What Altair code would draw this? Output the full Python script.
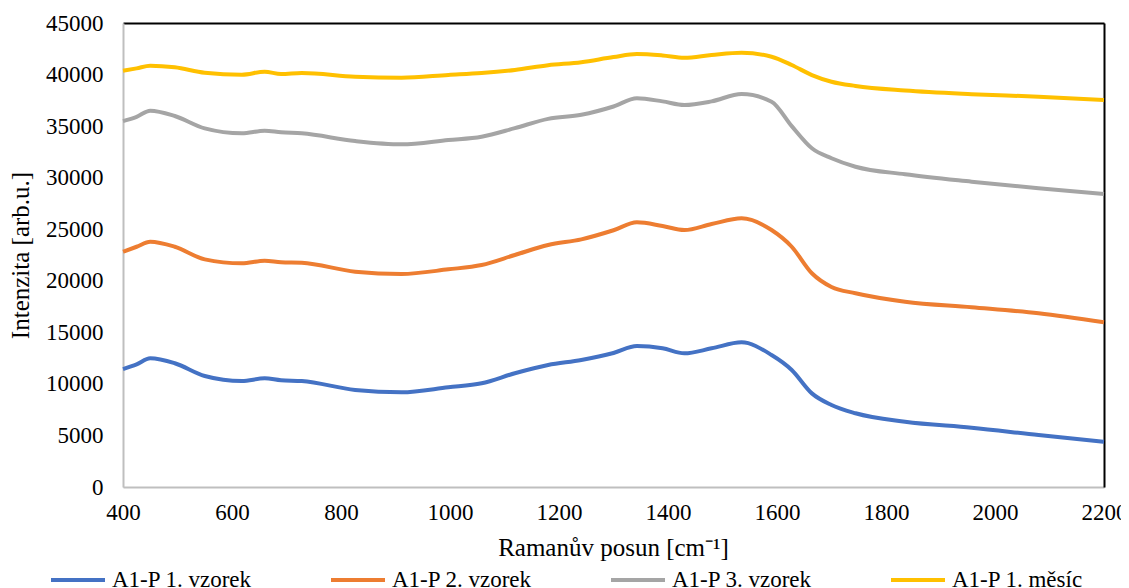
import altair as alt
import pandas as pd

shift = [400, 425, 450, 495, 550, 618, 660, 690, 728, 826, 911, 997, 1058, 1119,
         1180, 1241, 1300, 1343, 1390, 1430, 1480, 1535, 1590, 1627, 1664, 1700,
         1744, 1835, 1957, 2080, 2200]

s1 = [11440, 11900, 12480, 12000, 10770, 10280, 10540, 10350, 10280, 9410, 9180,
      9670, 10060, 11030, 11830, 12320, 13000, 13670, 13450, 12960, 13450, 14030,
      12800, 11350, 9080, 7950, 7150, 6330, 5750, 5040, 4390]
s2 = [22820, 23300, 23790, 23300, 22080, 21690, 21950, 21800, 21750, 20880, 20660,
      21110, 21530, 22500, 23470, 24020, 24900, 25670, 25310, 24920, 25500, 26060,
      24920, 23300, 20730, 19400, 18790, 17970, 17430, 16840, 15970]
s3 = [35490, 35900, 36500, 35980, 34780, 34300, 34560, 34400, 34300, 33550, 33230,
      33650, 33970, 34800, 35700, 36100, 36900, 37700, 37400, 37050, 37400, 38110,
      37370, 35000, 32850, 31880, 31060, 30330, 29610, 28970, 28420]
s4 = [40370, 40600, 40850, 40700, 40180, 39990, 40280, 40050, 40150, 39790, 39690,
      39960, 40150, 40450, 40900, 41200, 41700, 41990, 41850, 41630, 41900, 42120,
      41730, 40930, 39950, 39300, 38890, 38450, 38100, 37850, 37530]

names = ["A1-P 1. vzorek", "A1-P 2. vzorek", "A1-P 3. vzorek", "A1-P 1. měsíc"]
colors = ["#4472C4", "#ED7D31", "#A5A5A5", "#FFC000"]

rows = []
for name, vals in zip(names, [s1, s2, s3, s4]):
    for x, v in zip(shift, vals):
        rows.append({"x": x, "y": v, "series": name})
df = pd.DataFrame(rows)

FONT = "'Liberation Serif', 'Times New Roman', serif"
xscale = alt.Scale(domain=[400, 2200], nice=False, zero=False)
yscale = alt.Scale(domain=[0, 45000], nice=False)

main = alt.Chart(df).mark_line(strokeWidth=4, interpolate="monotone").encode(
    x=alt.X("x:Q", scale=xscale,
            axis=alt.Axis(title="Ramanův posun [cm⁻¹]", values=list(range(400, 2201, 200)),
                          format="d",
                          ticks=False, grid=False, domainColor="#BFBFBF", domainWidth=2,
                          labelFont=FONT, labelFontSize=23, labelColor="black",
                          labelPadding=14, labelFlush=False,
                          titleFont=FONT, titleFontSize=25, titleFontWeight="normal",
                          titleColor="black", titleX=490, titleY=60,
                          titleBaseline="middle")),
    y=alt.Y("y:Q", scale=yscale,
            axis=alt.Axis(title="Intenzita [arb.u.]", values=list(range(0, 45001, 5000)),
                          format="d",
                          ticks=False, grid=False, domainColor="#BFBFBF", domainWidth=2,
                          labelFont=FONT, labelFontSize=23, labelColor="black",
                          labelPadding=20,
                          titleFont=FONT, titleFontSize=25, titleFontWeight="normal",
                          titleColor="black", titleX=-103, titleY=232,
                          titleBaseline="middle", titleAlign="center")),
    color=alt.Color("series:N", scale=alt.Scale(domain=names, range=colors),
                    sort=names,
                    legend=alt.Legend(title=None, orient="none", legendX=-74, legendY=528,
                                      direction="horizontal", columns=4,
                                      symbolType="stroke", symbolSize=2916,
                                      symbolStrokeWidth=4, labelOffset=5,
                                      columnPadding=71,
                                      labelFont=FONT, labelFontSize=23,
                                      labelColor="black", labelLimit=300)),
)

frame = alt.Chart(df).mark_line(opacity=0).encode(
    x=alt.X("x:Q", scale=xscale,
            axis=alt.Axis(orient="top", title=None, labels=False, ticks=False, grid=False,
                          domainColor="black", domainWidth=2)),
    y=alt.Y("y:Q", scale=yscale,
            axis=alt.Axis(orient="right", title=None, labels=False, ticks=False, grid=False,
                          domainColor="black", domainWidth=2)),
    detail="series:N",
)

chart = alt.layer(main, frame).resolve_axis(x="independent", y="independent").properties(
    width=981, height=464,
    autosize=alt.AutoSizeParams(type="none"),
    padding={"left": 115, "top": 15, "right": 17, "bottom": 101},
).configure_view(stroke=None).configure(background="white")

chart.save("out.html", embed_options={"renderer": "svg", "actions": False})
